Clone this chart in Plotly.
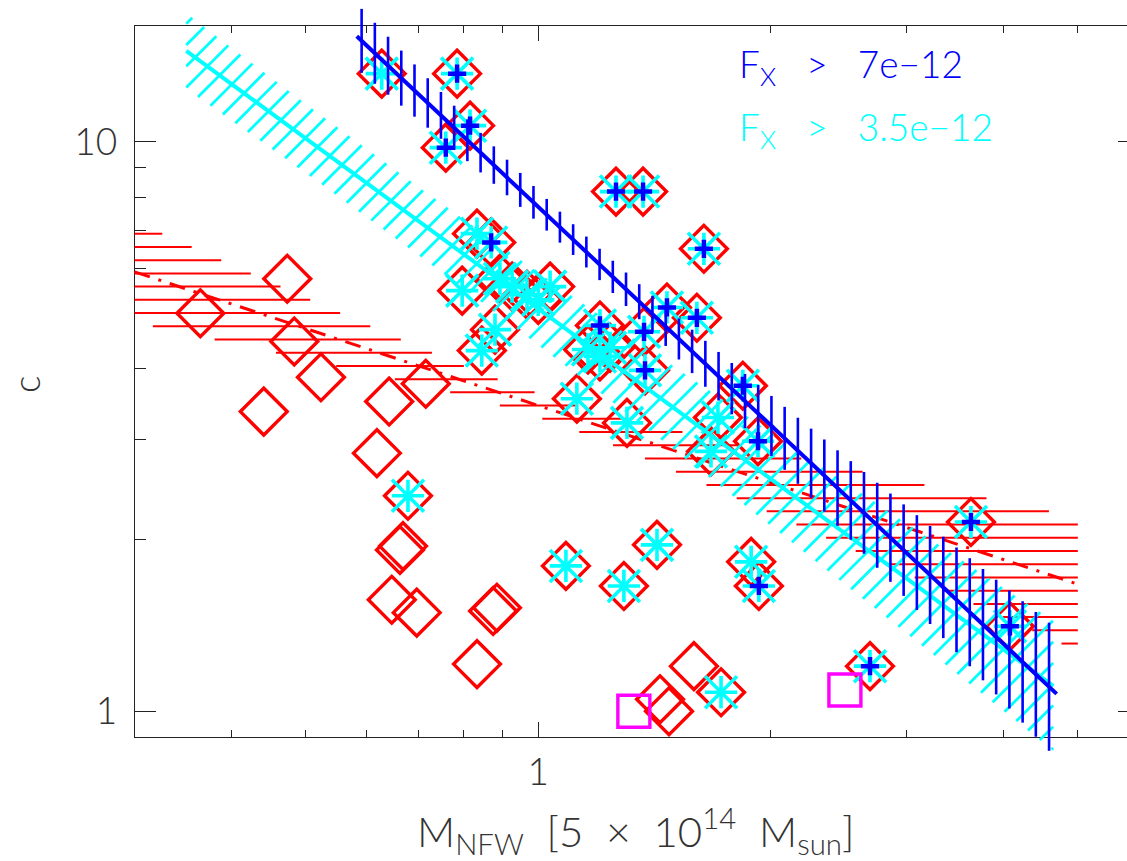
import numpy as np
import plotly.graph_objects as go

# ---------------------------------------------------------------------------
# Cluster sample: NFW mass [5e14 Msun], concentration and X-ray flux class
#   flux class 2 -> F_X > 7e-12, 1 -> F_X > 3.5e-12, 0 -> fainter
# ---------------------------------------------------------------------------
m_nfw = [0.627, 0.785, 0.816, 0.759, 1.261, 1.367, 1.639, 0.833, 0.869, 0.797,
         0.892, 0.925, 0.967, 1.000, 1.036, 0.879, 0.845, 1.202, 1.371, 1.468,
         1.605, 1.375, 1.160, 1.202, 1.239, 1.122, 1.303, 1.841, 1.709, 1.926,
         1.674, 1.425, 1.086, 1.291, 1.887, 1.931, 1.591, 1.725, 1.438, 1.477,
         3.635, 4.083, 2.690, 0.365, 0.473, 0.483, 0.523, 0.441, 0.641, 0.715,
         0.618, 0.678, 0.662, 0.668, 0.646, 0.696, 0.874, 0.884, 0.833]
conc = [13.18, 13.18, 10.68, 9.77, 8.18, 8.18, 6.49, 6.90, 6.66, 5.48,
        5.75, 5.57, 5.39, 5.28, 5.57, 4.68, 4.30, 4.76, 4.64, 5.12,
        4.91, 3.97, 4.32, 4.20, 4.35, 3.54, 3.21, 3.73, 3.28, 2.98,
        2.86, 1.96, 1.80, 1.66, 1.83, 1.66, 1.20, 1.08, 1.05, 1.00,
        2.15, 1.41, 1.20, 5.00, 5.75, 4.46, 3.86, 3.36, 3.50, 3.76,
        2.84, 2.39, 1.92, 1.95, 1.57, 1.49, 1.50, 1.52, 1.21]
fx_class = [1, 2, 2, 2, 2, 2, 2, 1, 2, 1,
            1, 1, 1, 1, 1, 1, 1, 2, 2, 2,
            2, 2, 1, 1, 1, 1, 1, 2, 1, 2,
            1, 1, 1, 1, 1, 2, 0, 1, 0, 0,
            2, 2, 2, 0, 0, 0, 0, 0, 0, 0,
            0, 1, 0, 0, 0, 0, 0, 0, 0]

# two separately flagged clusters
flag_m = [1.330, 2.496]
flag_c = [1.00, 1.09]

# power-law fits  log c = a + b log M, band half-width sqrt(sa^2 + sb^2 (log M - piv)^2)
#            a       b       sa      sb     piv     M_lo   M_hi
fit_all = [0.537, -0.449, 0.021, 0.165, 0.000, 0.300, 5.000]
fit_mid = [0.707, -0.993, 0.060, 0.112, -0.200, 0.350, 4.645]
fit_hi = [0.886, -1.274, 0.027, 0.178, 0.048, 0.582, 4.694]

NB = "\u00a0"
legend_lines = ["F<sub>X</sub>" + NB * 3 + "&gt;" + NB * 3 + "7e\u221212",
                "F<sub>X</sub>" + NB * 3 + "&gt;" + NB * 3 + "3.5e\u221212"]
x_title = ("M<sub>NFW</sub>" + NB * 2 + "[5" + NB * 2 + "\u00d7" + NB * 2 +
           "10<sup>14</sup>" + NB * 2 + "M<sub>sun</sub>]")

# ---------------------------------------------------------------------------
W, H = 1127, 861
XDOM = [0.11943, 1.0]
XR = [np.log10(0.3), 0.76264]
YDOM = [0.14367, 0.97015]
YR = [np.log10(0.9), np.log10(16.0)]

# pixels per decade of the frame, used for the overlay axes and hatch geometry
DX = W * (XDOM[1] - XDOM[0]) / (XR[1] - XR[0])
DY = H * (YDOM[1] - YDOM[0]) / (YR[1] - YR[0])
X2R = [XR[0] - XDOM[0] * W / DX, XR[1] + (1 - XDOM[1]) * W / DX]
Y2R = [YR[0] - YDOM[0] * H / DY, YR[1] + (1 - YDOM[1]) * H / DY]

RED, CYAN, BLUE, MAG = "#ff0000", "#00ffff", "#0000ff", "#ff00ff"
FONT = "Lato"
HATCH = 13.22      # hatch spacing in pixels (horizontal / vertical fills)
HATCH_DIAG = 15.0  # perpendicular spacing of the diagonal fill


def band(fit, u):
    a, b, sa, sb, piv = fit[:5]
    mid = a + b * u
    hw = np.sqrt(sa ** 2 + sb ** 2 * (u - piv) ** 2)
    return mid - hw, mid + hw


def fit_line(fit):
    u = np.linspace(np.log10(fit[5]), np.log10(fit[6]), 50)
    return 10 ** u, 10 ** (fit[0] + fit[1] * u)


def hatch_horizontal(fit, v0):
    u = np.linspace(np.log10(fit[5]), np.log10(fit[6]), 6000)
    lo, hi = band(fit, u)
    dv = HATCH / DY
    k0 = int(np.floor((lo.min() - v0) / dv))
    k1 = int(np.ceil((hi.max() - v0) / dv))
    xs, ys = [], []
    for k in range(k0, k1 + 1):
        v = v0 + k * dv
        m = (lo <= v) & (hi >= v)
        if m.any():
            xs += [10 ** u[m].min(), 10 ** u[m].max(), None]
            ys += [10 ** v, 10 ** v, None]
    return xs, ys


def hatch_vertical(fit, u0):
    ulo, uhi = np.log10(fit[5]), np.log10(fit[6])
    du = HATCH / DX
    k0 = int(np.ceil((ulo - u0) / du))
    k1 = int(np.floor((uhi - u0) / du))
    xs, ys = [], []
    for k in range(k0, k1 + 1):
        uk = u0 + k * du
        lo, hi = band(fit, np.array([uk]))
        xs += [10 ** uk, 10 ** uk, None]
        ys += [10 ** lo[0], 10 ** hi[0], None]
    return xs, ys


def hatch_diagonal(fit, k_ref):
    # lines rising at 45 degrees on screen
    u = np.linspace(np.log10(fit[5]), np.log10(fit[6]), 8000)
    lo, hi = band(fit, u)
    step = HATCH_DIAG * np.sqrt(2.0)
    kk = np.concatenate([lo * DY - u * DX, hi * DY - u * DX])
    k0 = int(np.floor((kk.min() - k_ref) / step))
    k1 = int(np.ceil((kk.max() - k_ref) / step))
    xs, ys = [], []
    for k in range(k0, k1 + 1):
        c = k_ref + k * step
        v = (c + u * DX) / DY
        m = (v >= lo) & (v <= hi)
        if m.sum() > 1:
            i = np.where(m)[0]
            xs += [10 ** u[i[0]], 10 ** u[i[-1]], None]
            ys += [10 ** v[i[0]], 10 ** v[i[-1]], None]
    return xs, ys


m_arr = np.array(m_nfw)
c_arr = np.array(conc)
cls = np.array(fx_class)

fig = go.Figure()

# empty traces that register the framed subplot and its right-hand tick axis
fig.add_trace(go.Scatter(x=[], y=[], xaxis="x", yaxis="y", showlegend=False))
fig.add_trace(go.Scatter(x=[], y=[], xaxis="x", yaxis="y3", showlegend=False))


def add(**kw):
    kw.setdefault("xaxis", "x2")
    kw.setdefault("yaxis", "y2")
    kw.setdefault("showlegend", False)
    kw.setdefault("hoverinfo", "skip")
    fig.add_trace(go.Scatter(**kw))


# whole sample
add(x=m_arr, y=c_arr, mode="markers",
    marker=dict(symbol="diamond-open", size=36, color=RED, line=dict(color=RED, width=3.4)))
hx, hy = hatch_horizontal(fit_all, 0.1189)
add(x=hx, y=hy, mode="lines", line=dict(color=RED, width=2))
fx, fy = fit_line(fit_all)
add(x=fx, y=fy, mode="lines", line=dict(color=RED, width=3, dash="16px,9px,3px,9px"))

# F_X > 3.5e-12
sel = cls >= 1
add(x=m_arr[sel], y=c_arr[sel], mode="markers",
    marker=dict(symbol="x-thin-open", size=32, color=CYAN, line=dict(color=CYAN, width=3.6)))
add(x=m_arr[sel], y=c_arr[sel], mode="markers",
    marker=dict(symbol="cross-thin-open", size=23, color=CYAN, line=dict(color=CYAN, width=3.6)))
hx, hy = hatch_diagonal(fit_mid, 0.0)
add(x=hx, y=hy, mode="lines", line=dict(color=CYAN, width=2.8))
fx, fy = fit_line(fit_mid)
add(x=fx, y=fy, mode="lines", line=dict(color=CYAN, width=4))

# F_X > 7e-12
sel = cls >= 2
add(x=m_arr[sel], y=c_arr[sel], mode="markers",
    marker=dict(symbol="cross-thin-open", size=13, color=BLUE, line=dict(color=BLUE, width=4.5)))
hx, hy = hatch_vertical(fit_hi, -0.2288)
add(x=hx, y=hy, mode="lines", line=dict(color=BLUE, width=2.6))
fx, fy = fit_line(fit_hi)
add(x=fx, y=fy, mode="lines", line=dict(color=BLUE, width=4))

# flagged clusters
add(x=flag_m, y=flag_c, mode="markers",
    marker=dict(symbol="square-open", size=32, color=MAG, line=dict(color=MAG, width=3.4)))

axis_col = "#222222"
text_font = dict(family=FONT, size=37, color="#333333", weight=300)

fig.update_layout(
    template="none",
    width=W, height=H,
    margin=dict(l=0, r=0, t=0, b=0, pad=0, autoexpand=False),
    paper_bgcolor="white",
    plot_bgcolor="rgba(0,0,0,0)",
    font=text_font,
    showlegend=False,
    xaxis=dict(type="log", domain=XDOM, range=XR, showgrid=False, zeroline=False,
               automargin=False, anchor="y",
               showline=True, linecolor=axis_col, linewidth=1, mirror="ticks",
               ticks="inside", ticklen=15, tickwidth=1, tickcolor=axis_col,
               tickmode="array", tickvals=[1], ticktext=["1"], ticklabelstandoff=2,
               minor=dict(tickmode="array",
                          tickvals=[0.4, 0.5, 0.6, 0.7, 0.8, 0.9, 2, 3, 4, 5],
                          ticks="inside", ticklen=7.5, tickwidth=1, tickcolor=axis_col,
                          showgrid=False),
               tickfont=text_font),
    yaxis=dict(type="log", domain=YDOM, range=YR, showgrid=False, zeroline=False,
               automargin=False, anchor="x",
               showline=True, linecolor=axis_col, linewidth=1, mirror=False,
               ticks="inside", ticklen=21, tickwidth=1, tickcolor=axis_col,
               tickmode="array", tickvals=[1, 10], ticktext=["1", "10"], ticklabelstandoff=9,
               minor=dict(tickmode="array", tickvals=[2, 3, 4, 5, 6, 7, 8, 9],
                          ticks="inside", ticklen=11, tickwidth=1, tickcolor=axis_col,
                          showgrid=False),
               tickfont=text_font),
    yaxis3=dict(type="log", overlaying="y", side="right", anchor="x", range=YR,
                automargin=False,
                showgrid=False, zeroline=False, showline=False, showticklabels=False,
                ticks="inside", ticklen=9, tickwidth=1, tickcolor=axis_col,
                tickmode="array", tickvals=[1, 10]),
    xaxis2=dict(type="log", domain=[0, 1], range=X2R, visible=False, anchor="y2",
                automargin=False),
    yaxis2=dict(type="log", domain=[0, 1], range=Y2R, visible=False, anchor="x2",
                automargin=False),
)

ann = [
    dict(text=x_title, x=636 / W, y=1 - 830 / H,
         font=dict(family=FONT, size=42, color="#333333", weight=300)),
    dict(text="c", x=25 / W, y=1 - 385 / H, textangle=-90),
    dict(text=legend_lines[0], x=737 / W, y=1 - 66 / H, xanchor="left",
         font=dict(family=FONT, size=37, color=BLUE, weight=300)),
    dict(text=legend_lines[1], x=737 / W, y=1 - 130 / H, xanchor="left",
         font=dict(family=FONT, size=37, color=CYAN, weight=300)),
]
for a in ann:
    a.setdefault("xref", "paper")
    a.setdefault("yref", "paper")
    a.setdefault("showarrow", False)
    a.setdefault("xanchor", "center")
    a.setdefault("yanchor", "middle")
    a.setdefault("font", text_font)
    fig.add_annotation(**a)

fig.write_html("out.html")
